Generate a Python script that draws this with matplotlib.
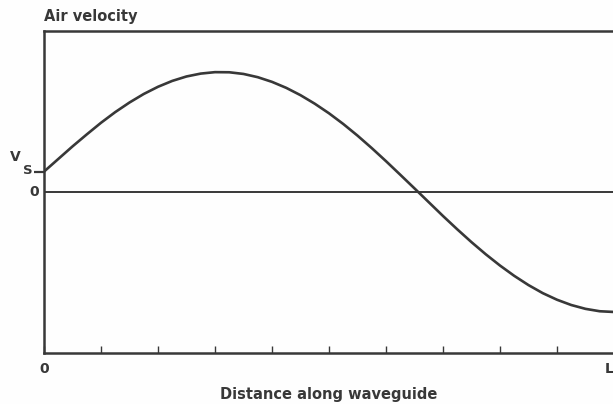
"""
Air velocity along a waveguide: standing-wave profile from 0 to L.
"""

import matplotlib.pyplot as plt

# distance along the waveguide, in tick units (0 .. L = 10)
distance = [0.0, 0.25, 0.5, 0.75, 1.0, 1.25, 1.5, 1.75, 2.0, 2.25,
            2.5, 2.75, 3.0, 3.25, 3.5, 3.75, 4.0, 4.25, 4.5, 4.75,
            5.0, 5.25, 5.5, 5.75, 6.0, 6.25, 6.5, 6.75, 7.0, 7.25,
            7.5, 7.75, 8.0, 8.25, 8.5, 8.75, 9.0, 9.25, 9.5, 9.75, 10.0]
# air velocity, normalised to the peak
velocity = [0.170, 0.275, 0.380, 0.480, 0.577, 0.666, 0.746, 0.817, 0.877, 0.926,
            0.963, 0.987, 0.999, 0.998, 0.984, 0.957, 0.918, 0.868, 0.807, 0.736,
            0.656, 0.567, 0.470, 0.366, 0.257, 0.144, 0.030, -0.085, -0.200, -0.311,
            -0.418, -0.519, -0.613, -0.699, -0.776, -0.843, -0.898, -0.942, -0.974, -0.994, -1.0]

v_source = velocity[0]
x_ticks = list(range(0, 11))
x_end_labels = ["0", "L"]

INK = "#383838"
BG = "#fefefe"

fig = plt.figure(figsize=(6.13, 4.04), dpi=100, facecolor=BG)
ax = fig.add_axes([44 / 613, 51 / 404, 570 / 613, 322 / 404])
ax.set_facecolor(BG)

ax.plot(distance, velocity, color=INK, linewidth=1.9, solid_capstyle="round")
ax.axhline(0, color=INK, linewidth=1.4)

ax.set_xlim(0, 10)
ax.set_ylim(-1.342, 1.342)

for side in ("left", "top", "bottom"):
    ax.spines[side].set_color(INK)
    ax.spines[side].set_linewidth(1.8)
ax.spines["right"].set_visible(False)

ax.set_xticks(x_ticks)
ax.set_xticklabels([])
ax.tick_params(axis="x", direction="in", length=5, width=1.0, color=INK)
ax.set_yticks([v_source])
ax.set_yticklabels([])
ax.tick_params(axis="y", direction="out", length=7, width=1.6, color=INK)

bold = dict(color=INK, fontweight="bold", family="DejaVu Sans")

# end labels under the distance axis
ax.text(0, -1.42, x_end_labels[0], ha="center", va="top", fontsize=10, **bold)
ax.text(10, -1.42, x_end_labels[1], ha="right", va="top", fontsize=10, **bold)

# labels on the velocity axis
ax.text(-0.17, 0, "0", ha="center", va="center", fontsize=10, **bold)
ax.text(-0.5, v_source + 0.12, "V", ha="center", va="center", fontsize=10, **bold)
ax.text(-0.29, v_source + 0.01, "S", ha="center", va="center", fontsize=9.5, **bold)

fig.text(44 / 613, 1 - 17 / 404, "Air velocity", ha="left", va="center",
         fontsize=10.5, **bold)
fig.text(329 / 613, 1 - 395 / 404, "Distance along waveguide", ha="center",
         va="center", fontsize=10.5, **bold)

fig.savefig("out.png", dpi=100, facecolor=fig.get_facecolor())
